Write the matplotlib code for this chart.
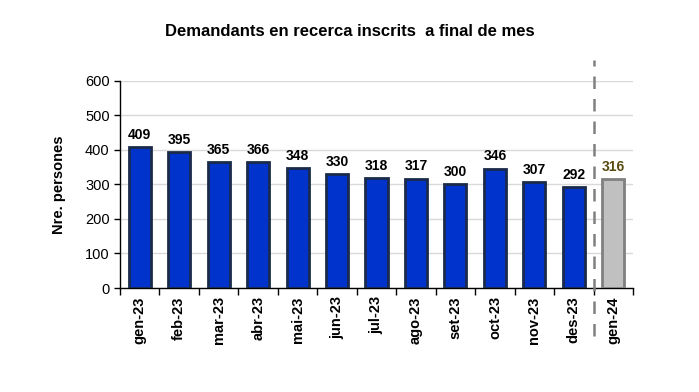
import matplotlib
matplotlib.use("Agg")
import matplotlib.pyplot as plt
import matplotlib.transforms as mtransforms
import numpy as np

plt.rcParams['font.family'] = ['Liberation Sans', 'DejaVu Sans']

months = ['gen-23', 'feb-23', 'mar-23', 'abr-23', 'mai-23', 'jun-23', 'jul-23',
          'ago-23', 'set-23', 'oct-23', 'nov-23', 'des-23', 'gen-24']
values = [409, 395, 365, 366, 348, 330, 318, 317, 300, 346, 307, 292, 316]

fig = plt.figure(figsize=(6.99, 3.92), dpi=100)
ax = fig.add_axes([0.1717, 0.2653, 0.7339, 0.5281])

x = np.arange(len(months))
face = ['#0033cc'] * 12 + ['#c0c0c0']
edge = ['#1a2a4a'] * 12 + ['#808080']
ax.bar(x, values, width=0.56, color=face, edgecolor=edge, linewidth=2, zorder=3)

for i, v in enumerate(values):
    col = '#5a4a10' if i == 12 else 'black'
    ax.text(i, v + 15, str(v), ha='center', va='bottom', fontsize=10,
            fontweight='bold', color=col)

ax.set_xlim(-0.5, len(months) - 0.5)
ax.set_ylim(0, 600)
ax.set_yticks(range(0, 601, 100))
ax.yaxis.grid(True, color='#d9d9d9', linewidth=1, zorder=0)
ax.set_xticks(x)
ax.set_xticklabels(months, rotation=90, fontsize=10.5, fontweight='bold')
ax.set_xticks(np.arange(-0.5, len(months), 1), minor=True)
ax.tick_params(axis='x', which='major', length=0, pad=6)
ax.tick_params(axis='x', which='minor', length=5, direction='out', width=1)
ax.tick_params(axis='y', labelsize=10.5, length=4, width=1, direction='out')
for s in ['top', 'right']:
    ax.spines[s].set_visible(False)
ax.spines['left'].set_linewidth(1)
ax.spines['bottom'].set_linewidth(1)

ax.set_ylabel('Nre. persones', fontsize=10.5, fontweight='bold', labelpad=14)
fig.suptitle('Demandants en recerca inscrits  a final de mes', x=0.5, y=0.94,
             fontsize=12, fontweight='bold')

trans = mtransforms.blended_transform_factory(ax.transData, ax.transAxes)
ax.plot([11.5, 11.5], [-0.23, 1.10], transform=trans, color='#808080',
        linestyle=(0, (5, 4)), linewidth=1.8, clip_on=False, zorder=4)

fig.savefig('out.png', dpi=100)
